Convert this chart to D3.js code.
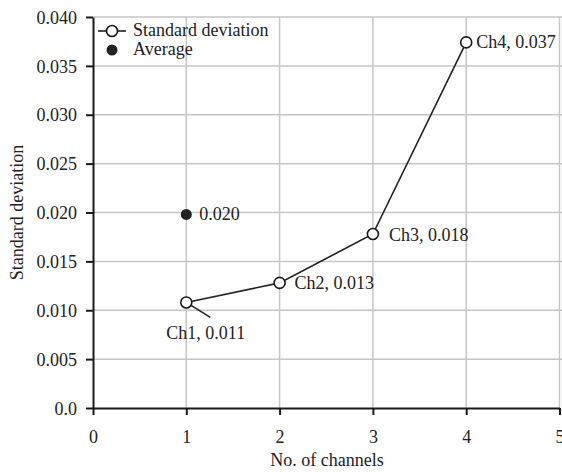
<!DOCTYPE html>
<html>
<head>
<meta charset="utf-8">
<script src="https://cdn.jsdelivr.net/npm/d3@7"></script>
<style>
  body { margin: 0; background: #fff; }
  svg text { font-family: "Liberation Serif", "Times New Roman", "DejaVu Serif", serif !important; }
</style>
</head>
<body>
<svg id="chart" width="562" height="472"></svg>
<script>
const channels = [1, 2, 3, 4];
const stdValues = [0.0108, 0.0128, 0.0178, 0.0374];
const stdLabels = ["Ch1, 0.011", "Ch2, 0.013", "Ch3, 0.018", "Ch4, 0.037"];
const avgChannel = 1;
const avgValue = 0.0198;
const avgLabel = "0.020";
const xTicks = [0, 1, 2, 3, 4, 5];
const yTicks = [0, 0.005, 0.01, 0.015, 0.02, 0.025, 0.03, 0.035, 0.04];

const svg = d3.select("#chart");
const width = 562;

const x = d3.scaleLinear().domain([0, 5]).range([93, 559.5]);
const y = d3.scaleLinear().domain([0, 0.04]).range([408, 17]);

const gridColor = "#c6c6c6";
const fontSize = 18;

// grid
svg.append("g")
  .selectAll("line")
  .data(yTicks.slice(1))
  .join("line")
  .attr("x1", x(0)).attr("x2", width)
  .attr("y1", (d) => y(d)).attr("y2", (d) => y(d))
  .attr("stroke", gridColor).attr("stroke-width", 1.5);

svg.append("g")
  .selectAll("line")
  .data(xTicks.slice(1))
  .join("line")
  .attr("x1", (d) => x(d)).attr("x2", (d) => x(d))
  .attr("y1", y(0.04)).attr("y2", y(0))
  .attr("stroke", gridColor).attr("stroke-width", 1.5);

// axes
const yAxis = svg.append("g")
  .attr("transform", `translate(${x(0)},0)`)
  .call(d3.axisLeft(y).tickValues(yTicks).tickSize(7).tickSizeOuter(0)
    .tickFormat((d) => (d === 0 ? "0.0" : d3.format(".3f")(d))));

const xAxis = svg.append("g")
  .attr("transform", `translate(0,${y(0)})`)
  .call(d3.axisBottom(x).tickValues(xTicks).tickSize(7).tickSizeOuter(0)
    .tickFormat(d3.format("d")));

[xAxis, yAxis].forEach((g) => {
  g.attr("font-size", fontSize).attr("font-family", null);
  g.select(".domain").attr("stroke", "#1a1a1a").attr("stroke-width", 2);
  g.selectAll(".tick line").attr("stroke", "#1a1a1a").attr("stroke-width", 2);
  g.selectAll(".tick text").attr("fill", "#222");
});
yAxis.selectAll(".tick text").attr("x", -16).attr("dy", "0.34em");
xAxis.selectAll(".tick text").attr("y", 22);

// axis titles
svg.append("text")
  .attr("x", 327)
  .attr("y", 466)
  .attr("text-anchor", "middle")
  .attr("font-size", fontSize)
  .attr("fill", "#222")
  .text("No. of channels");

svg.append("text")
  .attr("transform", `translate(23,${y(0.02)}) rotate(-90)`)
  .attr("text-anchor", "middle")
  .attr("font-size", fontSize)
  .attr("fill", "#222")
  .text("Standard deviation");

// std line
const pts = channels.map((c, i) => ({ c, v: stdValues[i], label: stdLabels[i] }));

svg.append("path")
  .datum(pts)
  .attr("fill", "none")
  .attr("stroke", "#222")
  .attr("stroke-width", 1.6)
  .attr("d", d3.line().x((d) => x(d.c)).y((d) => y(d.v)));

// leader for Ch1 label
svg.append("line")
  .attr("x1", x(pts[0].c)).attr("y1", y(pts[0].v))
  .attr("x2", x(pts[0].c) + 24).attr("y2", y(pts[0].v) + 15)
  .attr("stroke", "#222").attr("stroke-width", 1.6);

svg.append("g")
  .selectAll("circle")
  .data(pts)
  .join("circle")
  .attr("cx", (d) => x(d.c))
  .attr("cy", (d) => y(d.v))
  .attr("r", 5.5)
  .attr("fill", "#fff")
  .attr("stroke", "#1a1a1a")
  .attr("stroke-width", 1.6);

const labelOffsets = [[-20, 37], [15, 6.5], [16, 6.5], [10, 6]];
svg.append("g")
  .selectAll("text")
  .data(pts)
  .join("text")
  .attr("x", (d, i) => x(d.c) + labelOffsets[i][0])
  .attr("y", (d, i) => y(d.v) + labelOffsets[i][1])
  .attr("font-size", fontSize)
  .attr("fill", "#222")
  .text((d) => d.label);

// average
svg.append("circle")
  .attr("cx", x(avgChannel))
  .attr("cy", y(avgValue))
  .attr("r", 5.5)
  .attr("fill", "#222");

svg.append("text")
  .attr("x", x(avgChannel) + 13)
  .attr("y", y(avgValue) + 6)
  .attr("font-size", fontSize)
  .attr("fill", "#222")
  .text(avgLabel);

// legend
const legend = svg.append("g");
legend.append("line")
  .attr("x1", 98).attr("x2", 126).attr("y1", 31).attr("y2", 31)
  .attr("stroke", "#222").attr("stroke-width", 1.6);
legend.append("circle")
  .attr("cx", 112).attr("cy", 31).attr("r", 5.5)
  .attr("fill", "#fff").attr("stroke", "#1a1a1a").attr("stroke-width", 1.6);
legend.append("text")
  .attr("x", 133).attr("y", 36)
  .attr("font-size", fontSize).attr("fill", "#222")
  .text("Standard deviation");
legend.append("circle")
  .attr("cx", 112).attr("cy", 50).attr("r", 5.5)
  .attr("fill", "#222");
legend.append("text")
  .attr("x", 133).attr("y", 55)
  .attr("font-size", fontSize).attr("fill", "#222")
  .text("Average");
</script>
</body>
</html>
